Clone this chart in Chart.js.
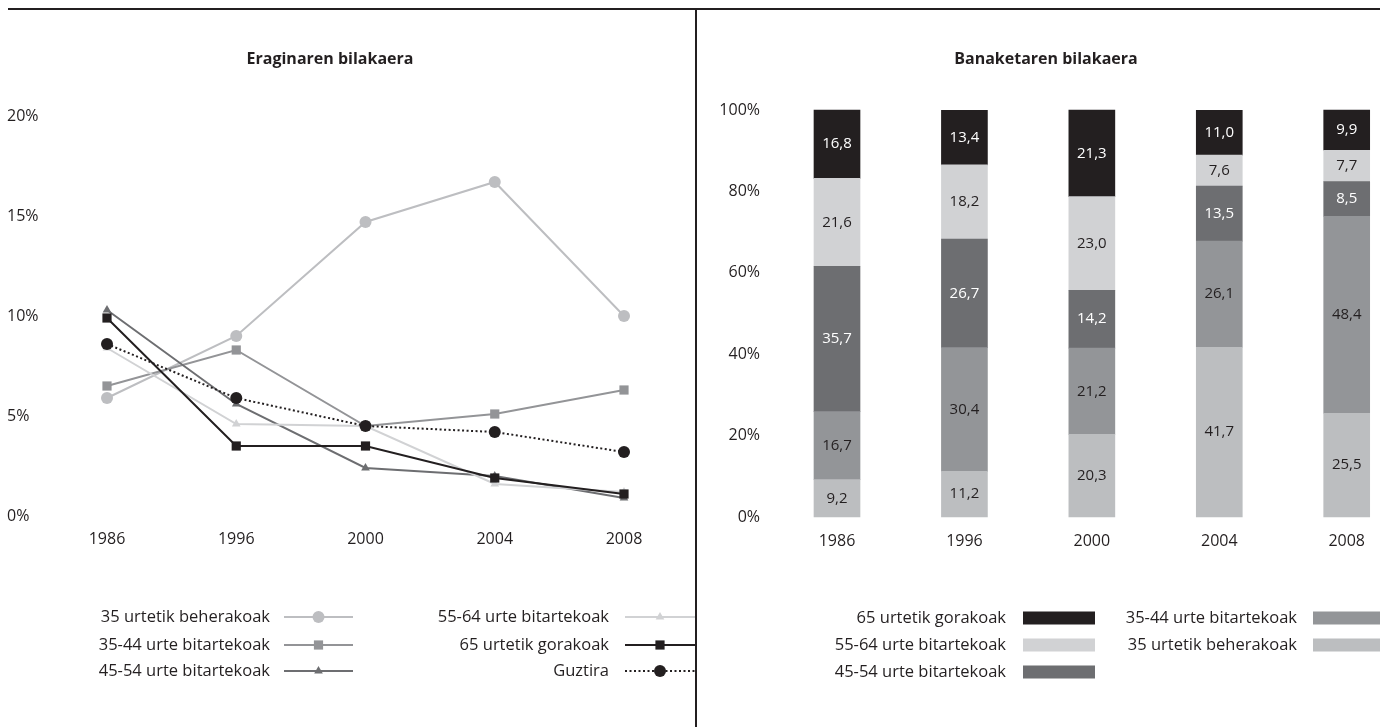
<!DOCTYPE html>
<html>
<head>
<meta charset="utf-8">
<script src="https://cdn.jsdelivr.net/npm/chart.js@4.4.0/dist/chart.umd.min.js"></script>
<style>
body{margin:0;background:#fff;width:1380px;height:727px;overflow:hidden;position:relative;font-family:"Open Sans",sans-serif;}
#goikoLerroa{position:absolute;left:8px;top:8px;width:1372px;height:2px;background:#231f20;}
#erdikoLerroa{position:absolute;left:695px;top:9px;width:2px;height:718px;background:#231f20;}
#Grafica1{position:absolute;left:0;top:0;}
#Grafica2{position:absolute;left:697px;top:0;}
</style>
</head>
<body>
<canvas id="Grafica1" width="695" height="727"></canvas>
<canvas id="Grafica2" width="683" height="727"></canvas>
<div id="goikoLerroa"></div>
<div id="erdikoLerroa"></div>
<script>
// datuak
const urteak = ['1986', '1996', '2000', '2004', '2008'];

// Eraginaren bilakaera (%)
const eraginaBehera35 = [5.9, 9.0, 14.7, 16.7, 10.0];
const eragina3544 = [6.5, 8.3, 4.5, 5.1, 6.3];
const eragina4554 = [10.3, 5.6, 2.4, 2.0, 0.9];
const eragina5564 = [8.4, 4.6, 4.5, 1.6, 1.2];
const eraginaGora65 = [9.9, 3.5, 3.5, 1.9, 1.1];
const eraginaGuztira = [8.6, 5.9, 4.5, 4.2, 3.2];
const eraginaTickak = [0, 5, 10, 15, 20];

// Banaketaren bilakaera (%)
const banaketaBehera35 = [9.2, 11.2, 20.3, 41.7, 25.5];
const banaketa3544 = [16.7, 30.4, 21.2, 26.1, 48.4];
const banaketa4554 = [35.7, 26.7, 14.2, 13.5, 8.5];
const banaketa5564 = [21.6, 18.2, 23.0, 7.6, 7.7];
const banaketaGora65 = [16.8, 13.4, 21.3, 11.0, 9.9];
const banaketaTickak = [0, 20, 40, 60, 80, 100];

const testuKolorea = '#231f20';
const letra = '"Open Sans", sans-serif';

// marka txiki bat marraztu (legendan)
const marraztuMarka = (ctx, mota, r, x, y) => {
    ctx.beginPath();
    if (mota === 'circle') {
        ctx.arc(x, y, r, 0, Math.PI * 2);
    } else if (mota === 'rect') {
        const s = r * Math.SQRT1_2;
        ctx.rect(x - s, y - s, s * 2, s * 2);
    } else if (mota === 'triangle') {
        ctx.moveTo(x, y - r);
        ctx.lineTo(x + r * 0.866, y + r * 0.5);
        ctx.lineTo(x - r * 0.866, y + r * 0.5);
        ctx.closePath();
    }
    ctx.fill();
}

const tituluPlugin = {
    id: 'titulua',
    afterDraw(chart, args, opts) {
        const ctx = chart.ctx;
        ctx.save();
        ctx.font = 'bold 16px ' + letra;
        ctx.fillStyle = testuKolorea;
        ctx.textAlign = 'center';
        ctx.textBaseline = 'middle';
        ctx.fillText(opts.testua, opts.x, opts.y);
        ctx.restore();
    }
};

const legendaPlugin = {
    id: 'legenda',
    afterDraw(chart, args, opts) {
        const ctx = chart.ctx;
        ctx.save();
        ctx.font = '16.5px ' + letra;
        ctx.textBaseline = 'middle';
        ctx.textAlign = 'right';
        opts.ordena.forEach((dsIndex, i) => {
            const ds = chart.data.datasets[dsIndex];
            const zut = opts.zutabeak[Math.floor(i / opts.errenkadak.length)];
            const y = opts.errenkadak[i % opts.errenkadak.length];
            ctx.fillStyle = testuKolorea;
            ctx.fillText(ds.label, zut.testua, y);
            if (opts.mota === 'lerroa') {
                ctx.strokeStyle = ds.borderColor;
                ctx.lineWidth = ds.borderWidth;
                ctx.setLineDash(ds.borderDash || []);
                ctx.beginPath();
                ctx.moveTo(zut.x1, y);
                ctx.lineTo(zut.x2, y);
                ctx.stroke();
                ctx.setLineDash([]);
                ctx.fillStyle = ds.pointBackgroundColor;
                marraztuMarka(ctx, ds.pointStyle, ds.pointRadius, (zut.x1 + zut.x2) / 2, y);
            } else {
                ctx.fillStyle = ds.backgroundColor;
                ctx.fillRect(zut.x1, y - 6.5, zut.x2 - zut.x1, 13);
            }
        });
        ctx.restore();
    }
};

const balioPlugin = {
    id: 'balioak',
    afterDatasetsDraw(chart) {
        const ctx = chart.ctx;
        ctx.save();
        ctx.font = '15px ' + letra;
        ctx.textAlign = 'center';
        ctx.textBaseline = 'middle';
        chart.data.datasets.forEach((ds, i) => {
            const meta = chart.getDatasetMeta(i);
            meta.data.forEach((barra, j) => {
                ctx.fillStyle = ds.etiketaKolorea;
                ctx.fillText(ds.data[j].toFixed(1).replace('.', ','), barra.x, (barra.y + barra.base) / 2);
            });
        });
        ctx.restore();
    }
};

const lerroa = (label, data, kolorea, marka, r, ordena, dash) => ({
    label: label,
    data: data,
    borderColor: kolorea,
    backgroundColor: kolorea,
    pointBackgroundColor: kolorea,
    pointBorderColor: kolorea,
    borderWidth: 2,
    borderDash: dash || [],
    pointStyle: marka,
    pointRadius: r,
    pointBorderWidth: 0,
    tension: 0,
    order: ordena,
    clip: false
});

// 1. grafikoa: lerroak
new Chart(document.getElementById('Grafica1'), {
    type: 'line',
    data: {
        labels: urteak,
        datasets: [
            lerroa('35 urtetik beherakoak', eraginaBehera35, '#bdbec1', 'circle', 6, 5),
            lerroa('35-44 urte bitartekoak', eragina3544, '#939497', 'rect', 6.5, 4),
            lerroa('45-54 urte bitartekoak', eragina4554, '#6d6e71', 'triangle', 5, 3),
            lerroa('55-64 urte bitartekoak', eragina5564, '#d1d2d4', 'triangle', 5, 2),
            lerroa('65 urtetik gorakoak', eraginaGora65, '#231f20', 'rect', 6.5, 1),
            lerroa('Guztira', eraginaGuztira, '#231f20', 'circle', 6, 0, [2, 2.5])
        ]
    },
    options: {
        responsive: false,
        animation: false,
        layout: { padding: { left: 7, right: 71, top: 116, bottom: 171 } },
        plugins: {
            legend: { display: false },
            tooltip: { enabled: false },
            titulua: { testua: 'Eraginaren bilakaera', x: 330, y: 59 },
            legenda: {
                mota: 'lerroa',
                ordena: [0, 1, 2, 3, 4, 5],
                errenkadak: [617, 645, 671],
                zutabeak: [{ testua: 270, x1: 284, x2: 353 }, { testua: 609, x1: 625, x2: 695 }]
            }
        },
        scales: {
            x: {
                grid: { display: false, drawTicks: false },
                border: { display: false },
                ticks: { color: testuKolorea, font: { family: letra, size: 16 }, padding: 14, maxRotation: 0 },
                afterFit: (scale) => { scale.height = 40; }
            },
            y: {
                min: 0,
                max: 20,
                afterBuildTicks: (scale) => { scale.ticks = eraginaTickak.map(v => ({ value: v })); },
                grid: { display: false, drawTicks: false },
                border: { display: false },
                ticks: { color: testuKolorea, font: { family: letra, size: 16 }, crossAlign: 'far', callback: (v) => v + '%' },
                afterFit: (scale) => { scale.width = 100; }
            }
        }
    },
    plugins: [tituluPlugin, legendaPlugin]
});

const barra = (label, data, kolorea, etiketa) => ({
    label: label,
    data: data,
    backgroundColor: kolorea,
    borderWidth: 0,
    barThickness: 46,
    etiketaKolorea: etiketa,
    clip: false
});

// 2. grafikoa: barra metatuak
new Chart(document.getElementById('Grafica2'), {
    type: 'bar',
    data: {
        labels: urteak,
        datasets: [
            barra('35 urtetik beherakoak', banaketaBehera35, '#bcbec0', testuKolorea),
            barra('35-44 urte bitartekoak', banaketa3544, '#939598', testuKolorea),
            barra('45-54 urte bitartekoak', banaketa4554, '#6d6e71', '#ffffff'),
            barra('55-64 urte bitartekoak', banaketa5564, '#d1d2d4', testuKolorea),
            barra('65 urtetik gorakoak', banaketaGora65, '#231f20', '#ffffff')
        ]
    },
    options: {
        responsive: false,
        animation: false,
        layout: { padding: { left: 0, right: 29, top: 110, bottom: 170 } },
        plugins: {
            legend: { display: false },
            tooltip: { enabled: false },
            titulua: { testua: 'Banaketaren bilakaera', x: 349, y: 59 },
            legenda: {
                mota: 'barra',
                ordena: [4, 3, 2, 1, 0],
                errenkadak: [618, 645, 672],
                zutabeak: [{ testua: 309, x1: 326, x2: 398 }, { testua: 600, x1: 616, x2: 688 }]
            }
        },
        scales: {
            x: {
                stacked: true,
                offset: false,
                grid: { display: false, drawTicks: false },
                border: { display: false },
                ticks: { color: testuKolorea, font: { family: letra, size: 16 }, padding: 15, maxRotation: 0 },
                afterFit: (scale) => { scale.height = 40; }
            },
            y: {
                stacked: true,
                min: 0,
                max: 100,
                afterBuildTicks: (scale) => { scale.ticks = banaketaTickak.map(v => ({ value: v })); },
                grid: { display: false, drawTicks: false },
                border: { display: false },
                ticks: { color: testuKolorea, font: { family: letra, size: 16 }, padding: 77, callback: (v) => v + '%' },
                afterFit: (scale) => { scale.width = 140; }
            }
        }
    },
    plugins: [tituluPlugin, legendaPlugin, balioPlugin]
});
</script>
</body>
</html>
